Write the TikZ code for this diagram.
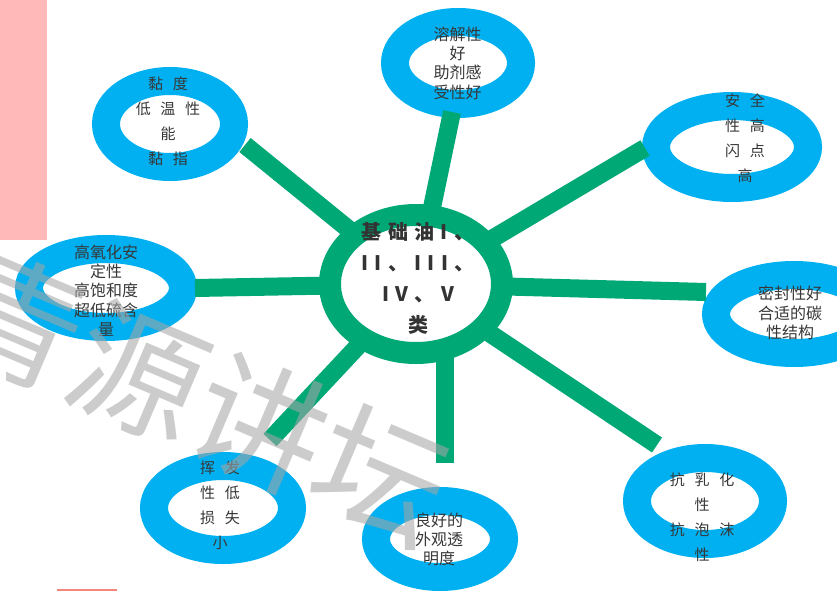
\documentclass[tikz,border=0pt]{standalone}
\usepackage{fontspec}
\usepackage{tikz}
\usetikzlibrary{shapes.geometric}
\newfontfamily\cjk{Noto Sans CJK SC}
\newfontfamily\cjkwide[WordSpace=2.9]{Noto Sans CJK SC}
\newfontfamily\cjkhub[LetterSpace=32]{Noto Sans CJK SC}
\definecolor{ringblue}{RGB}{0,176,240}
\definecolor{hubgreen}{RGB}{0,168,118}
\definecolor{txtgray}{RGB}{55,55,55}
\definecolor{pinkbar}{RGB}{255,185,185}
\definecolor{redline}{RGB}{244,135,122}

\begin{document}
\begin{tikzpicture}[x=1pt, y=-1pt,
  ring/.style={ellipse, draw=ringblue, line width=28pt, fill=white, inner sep=0pt},
  hubring/.style={ellipse, draw=hubgreen, line width=22pt, fill=white, inner sep=0pt},
  spoke/.style={hubgreen, line width=18pt},
  txt/.style={align=center, text=txtgray, font=\cjk\fontsize{16}{19.3}\selectfont},
  wtxt/.style={align=center, text=txtgray, font=\cjkwide\fontsize{15}{25}\selectfont}]
\useasboundingbox (0,0) rectangle (837,591);
\fill[pinkbar] (0,0) rectangle (47,240);
\draw[redline, line width=2pt] (57,590) -- (117,590);

% blue rings
\foreach \n/\x/\y/\a/\b in {r1/170/124/64/43, r2/458/63/63/41, r3/732/147/76/41, r4/106/288/77/39,
  r5/794/314/78/39, r6/223/508/69/42, r7/440/539/64/38, r8/705/501/68/43}
  \node[ring, minimum width=2*\a, minimum height=2*\b] (\n) at (\x,\y) {};

% spokes
\coordinate (hc) at (416,284);
\coordinate (e1) at (245,145);
\coordinate (e2) at (452,112);
\coordinate (e3) at (645,148);
\coordinate (e4) at (195,288);
\coordinate (e5) at (706,292);
\coordinate (e6) at (270,440);
\coordinate (e7) at (445,463);
\coordinate (e8) at (657,445);
\foreach \i in {1,2,3,4,5,6,8}
  \draw[spoke] (hc) -- (e\i);
\draw[spoke] (hc -| e7) -- (e7);

\node[hubring, minimum width=172, minimum height=138] (hub) at (hc) {};

% labels
\node[wtxt] (t1) at (168,121) {黏 度\\低 温 性\\能\\黏 指};
\node[txt] (t2) at (457.5,63) {溶解性\\好\\助剂感\\受性好};
\node[wtxt] (t3) at (745,138.5) {安 全\\性 高\\闪 点\\高};
\node[txt] (t4) at (106,290.5) {高氧化安\\定性\\高饱和度\\超低硫含\\量};
\node[txt] (t5) at (790,313) {密封性好\\合适的碳\\性结构};
\node[wtxt] (t6) at (220,505) {挥 发\\性 低\\损 失\\小};
\node[txt] (t7) at (439,539.5) {良好的\\外观透\\明度};
\node[wtxt] (t8) at (702,517.5) {抗 乳 化\\性\\抗 泡 沫\\性};
\node[align=center, text=black!80, font=\cjkhub\bfseries\fontsize{20}{31}\selectfont] (t0)
  at (418,278.5) {基础油I、\\II、III、\\IV、V\\类};

% watermark
\node[rotate=-23, text=black!35, opacity=0.57, font=\cjk\fontsize{132}{132}\selectfont] (wm)
  at (200,398) {青源讲坛};
\end{tikzpicture}
\end{document}
